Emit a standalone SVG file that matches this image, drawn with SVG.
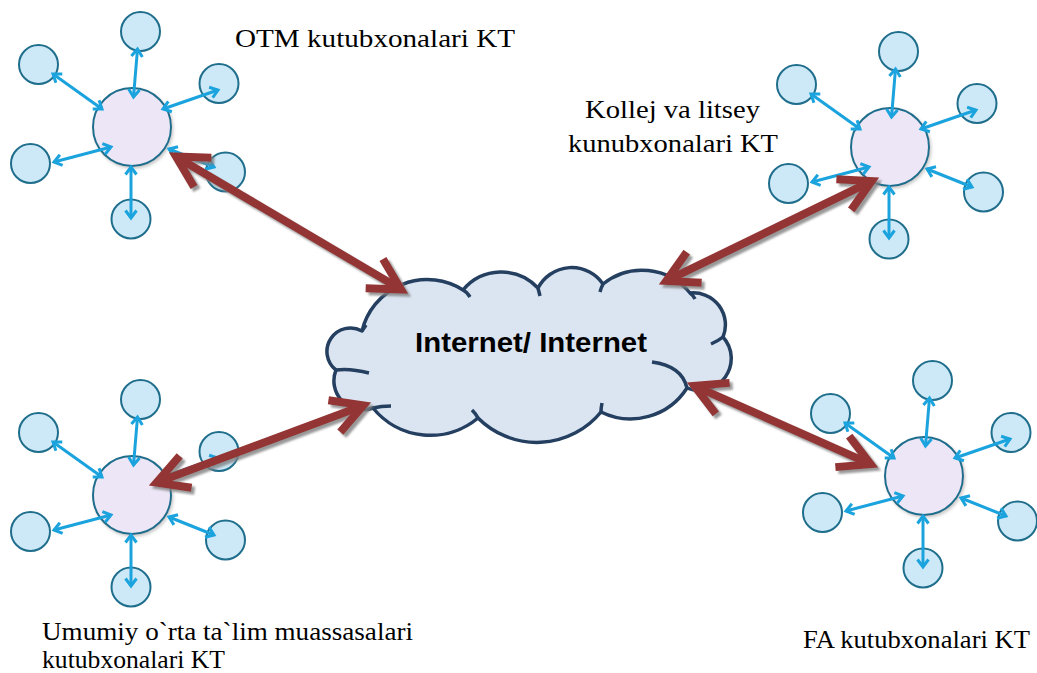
<svg xmlns="http://www.w3.org/2000/svg" width="1037" height="673" viewBox="0 0 1037 673">
<style>
.sat{fill:#cde9f8;stroke:#1f6e8c;stroke-width:2}
.hub{fill:#ece6f6;stroke:#1f6e8c;stroke-width:2;filter:url(#hs)}
.blue{stroke:#1ba3de;stroke-width:3;fill:none;marker-start:url(#bh);marker-end:url(#bh)}
.red{stroke:#943634;stroke-width:8;fill:none;marker-start:url(#rh);marker-end:url(#rh);filter:url(#sh)}
.lbl{font-family:"Liberation Serif","Times New Roman",serif;font-size:26px;fill:#000}
.cloud{fill:#dbe5f1;stroke:#243f60;stroke-width:3.5;stroke-linejoin:round}
.inner{fill:none;stroke:#243f60;stroke-width:3.5;stroke-linecap:butt}
</style>
<defs>
<marker id="bh" markerUnits="userSpaceOnUse" orient="auto-start-reverse" refX="0" refY="0" markerWidth="20" markerHeight="20" overflow="visible">
<path d="M-7.5,-5.5 L0,0 L-7.5,5.5" fill="none" stroke="#1ba3de" stroke-width="3"/>
</marker>
<marker id="rh" markerUnits="userSpaceOnUse" orient="auto-start-reverse" refX="0" refY="0" markerWidth="60" markerHeight="60" overflow="visible">
<path d="M-31,-17 L0,0 L-31,17" fill="none" stroke="#943634" stroke-width="8" stroke-linejoin="miter"/>
</marker>
<filter id="sh" x="-20%" y="-20%" width="140%" height="140%">
<feDropShadow dx="3" dy="3" stdDeviation="1.2" flood-color="#7f7f7f" flood-opacity="0.8"/>
</filter>
<filter id="hs" x="-20%" y="-20%" width="140%" height="140%">
<feDropShadow dx="1.5" dy="2" stdDeviation="1.5" flood-color="#999" flood-opacity="0.5"/>
</filter>
</defs>

<g id="cluster-otm" transform="translate(132,127)">
<g id="otm-sat-top"><circle class="sat" cx="8.5" cy="-95.5" r="19.5"/></g>
<g id="otm-sat-ul"><circle class="sat" cx="-93.5" cy="-62.5" r="19.5"/></g>
<g id="otm-sat-ur"><circle class="sat" cx="87" cy="-43.5" r="19.5"/></g>
<g id="otm-sat-l"><circle class="sat" cx="-101.5" cy="36.5" r="19.5"/></g>
<g id="otm-sat-r"><circle class="sat" cx="93.5" cy="45" r="19.5"/></g>
<g id="otm-sat-b"><circle class="sat" cx="-1" cy="92" r="19.5"/></g>
<g id="otm-hub"><circle class="hub" cx="0" cy="0" r="39"/></g>
</g>

<g id="cluster-kollej" transform="translate(890,147)">
<g id="kol-sat-top"><circle class="sat" cx="8.5" cy="-95.5" r="19.5"/></g>
<g id="kol-sat-ul"><circle class="sat" cx="-93.5" cy="-62.5" r="19.5"/></g>
<g id="kol-sat-ur"><circle class="sat" cx="87" cy="-43.5" r="19.5"/></g>
<g id="kol-sat-l"><circle class="sat" cx="-101.5" cy="36.5" r="19.5"/></g>
<g id="kol-sat-r"><circle class="sat" cx="93.5" cy="45" r="19.5"/></g>
<g id="kol-sat-b"><circle class="sat" cx="-1" cy="92" r="19.5"/></g>
<g id="kol-hub"><circle class="hub" cx="0" cy="0" r="39"/></g>
</g>

<g id="cluster-umumiy" transform="translate(132,495)">
<g id="umu-sat-top"><circle class="sat" cx="8.5" cy="-95.5" r="19.5"/></g>
<g id="umu-sat-ul"><circle class="sat" cx="-93.5" cy="-62.5" r="19.5"/></g>
<g id="umu-sat-ur"><circle class="sat" cx="87" cy="-43.5" r="19.5"/></g>
<g id="umu-sat-l"><circle class="sat" cx="-101.5" cy="36.5" r="19.5"/></g>
<g id="umu-sat-r"><circle class="sat" cx="93.5" cy="45" r="19.5"/></g>
<g id="umu-sat-b"><circle class="sat" cx="-1" cy="92" r="19.5"/></g>
<g id="umu-hub"><circle class="hub" cx="0" cy="0" r="39"/></g>
</g>

<g id="cluster-fa" transform="translate(924,476)">
<g id="fa-sat-top"><circle class="sat" cx="8.5" cy="-95.5" r="19.5"/></g>
<g id="fa-sat-ul"><circle class="sat" cx="-93.5" cy="-62.5" r="19.5"/></g>
<g id="fa-sat-ur"><circle class="sat" cx="87" cy="-43.5" r="19.5"/></g>
<g id="fa-sat-l"><circle class="sat" cx="-101.5" cy="36.5" r="19.5"/></g>
<g id="fa-sat-r"><circle class="sat" cx="93.5" cy="45" r="19.5"/></g>
<g id="fa-sat-b"><circle class="sat" cx="-1" cy="92" r="19.5"/></g>
<g id="fa-hub"><circle class="hub" cx="0" cy="0" r="39"/></g>
</g>

<g id="internet-cloud">
<path class="cloud" d="M362,331 A67,67 0 0 1 463,290 A50,50 0 0 1 538,288 A38,38 0 0 1 603,284 A62,62 0 0 1 690,293 A32,32 0 0 1 723,337 A32,32 0 0 1 687,388 A67,67 0 0 1 601,412 A83,83 0 0 1 478,418 A74,74 0 0 1 373,408 A29,29 0 0 1 336,370 A23.5,23.5 0 0 1 362,331 Z"/>
<path class="inner" d="M362,331 Q364,328 366,325 M463,290 Q467,292 470,297 M538,288 Q539,292 540,296 M603,284 Q601,288 600,292 M690,293 Q693,295 695,299 M723,337 Q718,341 711,344 M687,388 Q682,366 652,362 M601,412 Q601,408 602,403 M478,418 Q476,414 472,410 M373,408 Q381,406 391,406 M336,370 Q350,368 369,373"/>
<text x="415" y="352" font-family="'Liberation Sans',Arial,sans-serif" font-weight="bold" font-size="27" textLength="232" lengthAdjust="spacingAndGlyphs" fill="#000">Internet/ Internet</text>
</g>

<g id="connectors">
<g transform="translate(132,127)">
<path class="blue" d="M1.5,-30 L5.5,-78"/><path class="blue" d="M-30,-18 L-79,-53"/><path class="blue" d="M31,-18 L86,-37"/><path class="blue" d="M-21,20 L-78,35"/><path class="blue" d="M37,22 L82,40"/><path class="blue" d="M-1,40 L-1,91"/>
</g>
<g transform="translate(890,147)">
<path class="blue" d="M1.5,-30 L5.5,-78"/><path class="blue" d="M-30,-18 L-79,-53"/><path class="blue" d="M31,-18 L86,-37"/><path class="blue" d="M-21,20 L-78,35"/><path class="blue" d="M37,22 L82,40"/><path class="blue" d="M-1,40 L-1,91"/>
</g>
<g transform="translate(132,495)">
<path class="blue" d="M1.5,-30 L5.5,-78"/><path class="blue" d="M-30,-18 L-79,-53"/><path class="blue" d="M31,-18 L86,-37"/><path class="blue" d="M-21,20 L-78,35"/><path class="blue" d="M37,22 L82,40"/><path class="blue" d="M-1,40 L-1,91"/>
</g>
<g transform="translate(924,476)">
<path class="blue" d="M1.5,-30 L5.5,-78"/><path class="blue" d="M-30,-18 L-79,-53"/><path class="blue" d="M31,-18 L86,-37"/><path class="blue" d="M-21,20 L-78,35"/><path class="blue" d="M37,22 L82,40"/><path class="blue" d="M-1,40 L-1,91"/>
</g>
<path class="red" d="M176,156.6 L401,289.4"/>
<path class="red" d="M871.7,181.1 L666.3,280.9"/>
<path class="red" d="M156.6,482.6 L363.4,405.4"/>
<path class="red" d="M694.4,385.8 L870.6,464.2"/>
</g>

<g id="labels">
<text class="lbl" x="235" y="47" textLength="280" lengthAdjust="spacingAndGlyphs">OTM kutubxonalari KT</text>
<text class="lbl" x="585" y="118" textLength="175" lengthAdjust="spacingAndGlyphs">Kollej va litsey</text>
<text class="lbl" x="568" y="152" textLength="210" lengthAdjust="spacingAndGlyphs">kunubxonalari KT</text>
<text class="lbl" x="42" y="640" textLength="371" lengthAdjust="spacingAndGlyphs">Umumiy o`rta ta`lim muassasalari</text>
<text class="lbl" x="42" y="668" textLength="183" lengthAdjust="spacingAndGlyphs">kutubxonalari KT</text>
<text class="lbl" x="803" y="648" textLength="227" lengthAdjust="spacingAndGlyphs">FA kutubxonalari KT</text>
</g>
</svg>
